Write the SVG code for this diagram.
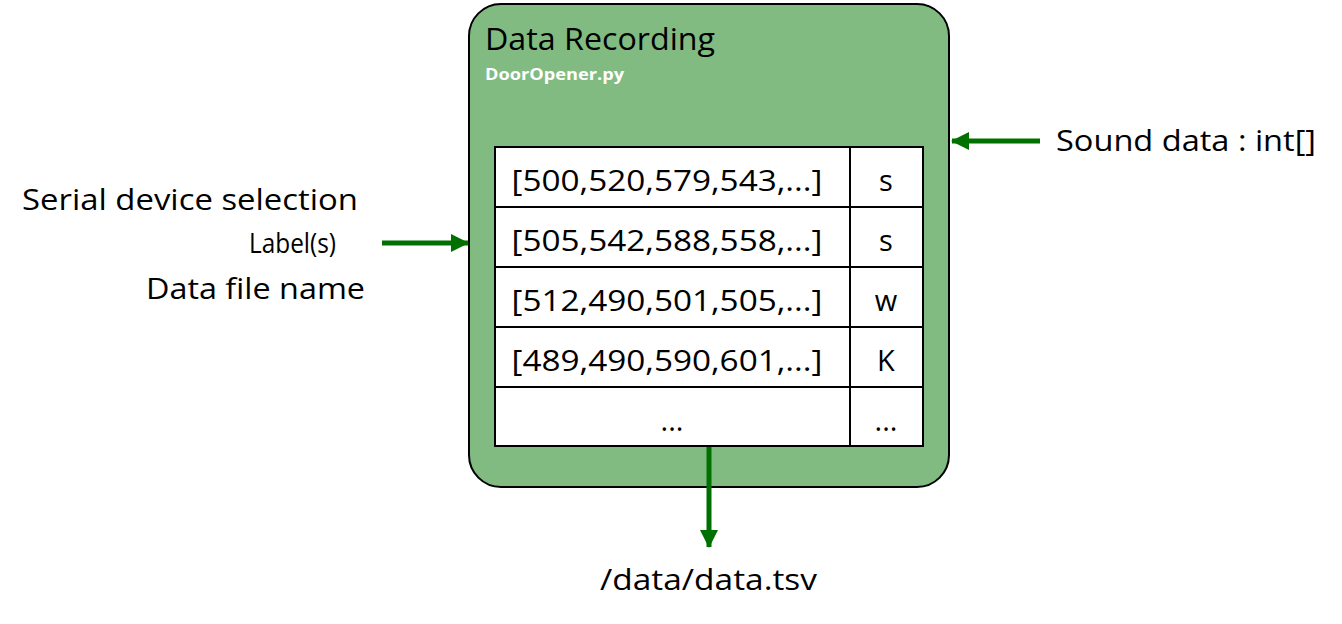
<svg xmlns="http://www.w3.org/2000/svg" width="1342" height="624" viewBox="0 0 1342 624">
<defs>
<style>
.t{font-family:"Open Sans","Liberation Sans",sans-serif;font-size:29px;fill:#000}
.c{text-anchor:middle}
.cell{fill:#fff;stroke:#000;stroke-width:2}
.conn{stroke:#007000;stroke-width:5;fill:none}
</style>
<marker id="ah" markerWidth="18" markerHeight="18" refX="17" refY="9" orient="auto" markerUnits="userSpaceOnUse"><path d="M0,0 L18,9 L0,18 Z" fill="#007000"/></marker>
</defs>
<rect width="1342" height="624" fill="#fff"/>
<g id="data-recording">
<rect x="469" y="4" width="480" height="483" rx="32" fill="#81bb82" stroke="#000" stroke-width="2"/>
<text x="485" y="50" class="t" style="font-size:31px" textLength="230" lengthAdjust="spacingAndGlyphs">Data Recording</text>
<text x="485" y="80" style="font-family:'Open Sans','Liberation Sans',sans-serif;font-size:16px;font-weight:bold;fill:#fff" textLength="139" lengthAdjust="spacingAndGlyphs">DoorOpener.py</text>
</g>
<g id="table">
<rect x="495" y="147" width="355" height="60" class="cell"/><rect x="850" y="147" width="73" height="60" class="cell"/>
<rect x="495" y="207" width="355" height="60" class="cell"/><rect x="850" y="207" width="73" height="60" class="cell"/>
<rect x="495" y="267" width="355" height="60" class="cell"/><rect x="850" y="267" width="73" height="60" class="cell"/>
<rect x="495" y="327" width="355" height="60" class="cell"/><rect x="850" y="327" width="73" height="60" class="cell"/>
<rect x="495" y="387" width="355" height="59" class="cell"/><rect x="850" y="387" width="73" height="59" class="cell"/>
<text x="667" y="191" class="t c" textLength="311" lengthAdjust="spacingAndGlyphs">[500,520,579,543,...]</text>
<text x="667" y="251" class="t c" textLength="311" lengthAdjust="spacingAndGlyphs">[505,542,588,558,...]</text>
<text x="667" y="311" class="t c" textLength="311" lengthAdjust="spacingAndGlyphs">[512,490,501,505,...]</text>
<text x="667" y="371" class="t c" textLength="311" lengthAdjust="spacingAndGlyphs">[489,490,590,601,...]</text>
<text x="672" y="431" class="t c">...</text>
<text x="886" y="191" class="t c">s</text>
<text x="886" y="251" class="t c">s</text>
<text x="886" y="311" class="t c">w</text>
<text x="886" y="371" class="t c">K</text>
<text x="886" y="431" class="t c">...</text>
</g>
<g id="inputs-left">
<text x="358" y="210" class="t" text-anchor="end" textLength="336" lengthAdjust="spacingAndGlyphs">Serial device selection</text>
<text x="336" y="253" class="t" text-anchor="end" style="font-size:27px" textLength="87" lengthAdjust="spacingAndGlyphs">Label(s)</text>
<text x="365" y="299" class="t" text-anchor="end" textLength="219" lengthAdjust="spacingAndGlyphs">Data file name</text>
</g>
<g id="input-right">
<text x="1056" y="151" class="t" textLength="260" lengthAdjust="spacingAndGlyphs">Sound data : int[]</text>
</g>
<g id="output">
<text x="600" y="590" class="t" textLength="217" lengthAdjust="spacingAndGlyphs">/data/data.tsv</text>
</g>
<g id="connectors">
<path d="M382,243 L468,243" class="conn" marker-end="url(#ah)"/>
<path d="M1040,141 L952,141" class="conn" marker-end="url(#ah)"/>
<path d="M709,447 L709,547" class="conn" marker-end="url(#ah)"/>
</g>
</svg>
